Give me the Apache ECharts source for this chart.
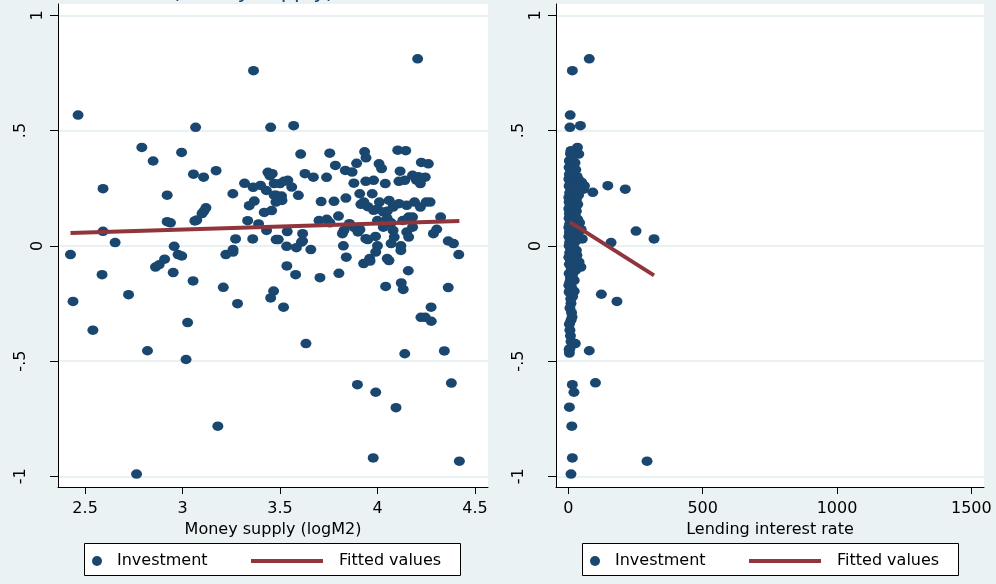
<!DOCTYPE html>
<html>
<head>
<meta charset="utf-8">
<script src="https://cdn.jsdelivr.net/npm/echarts@6/dist/echarts.min.js"></script>
<style>
html,body{margin:0;padding:0;background:#EAF2F3;}
#chart{width:996px;height:584px;}
</style>
</head>
<body>
<div id="chart"></div>
<script>
// ---- Data ----
// Left panel: Investment vs Money supply (logM2)
const moneySupply = [
2.464,3.364,4.206,3.067,3.452,3.570,2.791,2.849,2.995,2.592,
2.921,3.056,3.108,3.172,3.606,3.755,3.784,3.934,3.941,4.104,
4.145,4.225,4.261,3.835,3.893,3.870,4.008,4.021,4.116,4.245,
4.210,4.200,4.220,3.628,3.671,3.739,3.879,3.940,3.980,4.040,
4.110,4.140,4.180,3.318,3.362,3.400,3.438,3.448,3.460,3.500,
3.540,3.560,3.470,3.520,3.430,3.470,3.508,3.594,3.480,3.510,
3.258,3.909,3.973,3.711,3.777,3.838,3.915,3.930,3.950,3.980,
4.010,4.060,4.030,4.080,4.110,4.150,4.190,4.220,4.250,4.270,
4.000,4.050,3.342,3.368,3.419,3.457,3.479,3.109,3.120,3.100,
2.921,2.938,3.063,3.073,3.334,3.390,3.431,3.537,3.616,3.616,
3.272,3.360,3.491,2.592,2.654,3.700,3.740,3.756,3.800,3.828,
3.856,3.880,3.910,3.900,3.950,3.990,4.000,4.050,4.070,4.030,
4.080,4.150,4.180,4.160,4.130,4.287,4.304,4.324,4.363,4.390,
4.000,3.534,3.584,3.658,3.825,3.259,2.957,3.480,3.610,3.820,
3.940,4.070,4.120,4.160,3.840,3.960,4.050,2.425,2.438,2.587,
2.540,2.723,2.764,2.820,2.861,2.880,2.908,2.952,2.977,2.996,
3.054,3.026,3.018,3.181,3.209,3.222,3.259,3.282,3.452,3.467,
3.518,3.535,3.580,3.633,3.705,3.802,3.897,3.929,3.962,3.991,
3.991,3.978,4.042,4.059,4.095,4.122,4.132,4.140,4.158,4.120,
4.223,4.245,4.276,4.275,4.343,4.363,4.379,4.417,4.420,4.086,
4.160,4.180
];
const investmentA = [
0.567,0.760,0.811,0.514,0.514,0.521,0.427,0.368,0.405,0.248,
0.220,0.311,0.298,0.326,0.398,0.402,0.349,0.408,0.382,0.415,
0.413,0.362,0.356,0.327,0.358,0.320,0.356,0.335,0.324,0.298,
0.300,0.285,0.270,0.313,0.298,0.297,0.272,0.280,0.284,0.270,
0.280,0.284,0.306,0.271,0.254,0.262,0.319,0.304,0.313,0.270,
0.284,0.255,0.270,0.280,0.240,0.220,0.216,0.219,0.219,0.197,
0.226,0.226,0.226,0.192,0.193,0.207,0.180,0.190,0.170,0.154,
0.190,0.197,0.147,0.168,0.183,0.176,0.190,0.168,0.190,0.190,
0.160,0.150,0.174,0.194,0.145,0.153,0.190,0.150,0.165,0.140,
0.105,0.100,0.108,0.112,0.109,0.095,0.067,0.062,0.053,0.021,
0.030,0.030,0.027,0.063,0.014,0.110,0.115,0.100,0.129,0.067,
0.096,0.080,0.070,0.060,0.027,0.041,0.110,0.118,0.100,0.081,
0.067,0.060,0.081,0.125,0.110,0.053,0.072,0.125,0.021,0.010,
0.000,-0.002,-0.008,-0.016,0.000,-0.016,-0.002,0.027,0.016,0.053,
0.031,0.010,0.000,0.038,-0.049,-0.055,-0.055,-0.038,-0.241,-0.125,
-0.366,-0.212,-0.990,-0.455,-0.092,-0.082,-0.058,-0.116,-0.038,-0.044,
-0.152,-0.333,-0.493,-0.782,-0.180,-0.038,-0.027,-0.251,-0.226,-0.196,
-0.266,-0.087,-0.125,-0.424,-0.138,-0.119,-0.602,-0.077,-0.066,-0.027,
-0.635,-0.920,-0.176,-0.064,-0.702,-0.161,-0.189,-0.468,-0.108,-0.020,
-0.310,-0.310,-0.327,-0.266,-0.456,-0.181,-0.595,-0.038,-0.934,0.038,
0.118,0.125
];
const fitMoneyX = [2.425, 4.420];
const fitMoneyY = [0.056, 0.108];

// Right panel: Investment vs Lending interest rate
const lendingRate = [
15,78,7,6,45,34,10,39,4,147,212,91,56,252,319,159,52,123,181,78,
101,293,15,21,4,13,15,10,26,6,4,6,10,14,10,16,22,2,47,19,32,
8,18,5,25,12,3,20,9,28,15,4,22,33,10,2,18,40,27,7,50,
14,35,3,22,60,9,30,16,45,5,25,12,38,2,20,8,30,15,3,24,
10,35,6,18,28,2,13,22,8,30,4,17,11,26,3,20,35,8,15,42,
5,25,12,2,30,18,8,48,4,22,12,35,2,17,8,27,5,14,3,20,
10,30,5,16,2,25,9,40,4,18,11,28,3,15,8,22,5,12,3,9,
6,12,4,8,10,3
];
const investmentB = [
0.760,0.811,0.567,0.514,0.521,0.427,0.413,0.398,0.368,0.261,0.246,0.232,0.246,0.064,0.030,0.014,0.030,-0.210,-0.241,-0.455,
-0.594,-0.934,-0.602,-0.635,-0.700,-0.782,-0.920,-0.990,-0.424,-0.446,-0.465,-0.366,-0.323,-0.309,-0.250,-0.220,-0.197,-0.171,-0.092,-0.113,-0.041,
0.400,0.390,0.370,0.360,0.350,0.340,0.340,0.330,0.330,0.320,0.310,0.310,0.300,0.300,0.290,0.290,0.285,0.280,0.280,0.275,
0.270,0.265,0.260,0.260,0.260,0.250,0.250,0.240,0.240,0.230,0.230,0.220,0.220,0.210,0.210,0.200,0.200,0.190,0.190,0.185,
0.180,0.180,0.170,0.170,0.165,0.160,0.160,0.155,0.150,0.150,0.140,0.140,0.130,0.130,0.120,0.120,0.115,0.110,0.100,0.100,
0.095,0.090,0.085,0.080,0.080,0.075,0.070,0.070,0.060,0.060,0.050,0.050,0.040,0.040,0.030,0.020,0.015,0.010,0.000,-0.005,
-0.015,-0.020,-0.030,-0.040,-0.050,-0.055,-0.065,-0.070,-0.080,-0.090,-0.100,-0.105,-0.120,-0.130,-0.140,-0.150,-0.160,-0.180,-0.200,-0.230,
-0.270,-0.290,-0.340,-0.390,-0.415,-0.450
];
const fitRateX = [6, 319];
const fitRateY = [0.103, -0.128];

// Axis ticks / labels
const yTicks = [-1, -0.5, 0, 0.5, 1];
const yTickLabels = ['-1', '-.5', '0', '.5', '1'];
const xTicksMoney = [2.5, 3, 3.5, 4, 4.5];
const xTickLabelsMoney = ['2.5', '3', '3.5', '4', '4.5'];
const xTicksRate = [0, 500, 1000, 1500];
const xTickLabelsRate = ['0', '500', '1000', '1500'];

// ---- Styling ----
const NAVY = '#1A476F';
const MAROON = '#90353B';
const FONT = 'DejaVu Sans';
const GRIDLINE = '#E3ECEE';

function lab(ticks, labels) {
  return function (v) {
    for (let i = 0; i < ticks.length; i++) {
      if (Math.abs(ticks[i] - v) < 1e-9) return labels[i];
    }
    return '';
  };
}
// y labels: single-character labels sit closer to the axis than longer ones
function yLab(v) {
  const t = lab(yTicks, yTickLabels)(v);
  return t.length > 1 ? '{w|' + t + '}' : '{n|' + t + '}';
}

function xAxisCfg(idx, min, max, ticks, labels, name) {
  return {
    type: 'value', gridIndex: idx, min: min, max: max,
    name: name, nameLocation: 'middle', nameGap: 24,
    nameTextStyle: { fontFamily: FONT, fontSize: 16, color: '#000' },
    axisLine: { show: true, onZero: false, lineStyle: { color: '#000', width: 1 } },
    axisTick: { show: true, length: 7, customValues: ticks, lineStyle: { color: '#000', width: 1 } },
    axisLabel: { customValues: ticks, formatter: lab(ticks, labels), margin: 14,
      fontFamily: FONT, fontSize: 16, color: '#000' },
    splitLine: { show: false }
  };
}
function yAxisCfg(idx) {
  return {
    type: 'value', gridIndex: idx, min: -1.046, max: 1.049,
    axisLine: { show: true, onZero: false, lineStyle: { color: '#000', width: 1 } },
    axisTick: { show: true, length: 8, customValues: yTicks, lineStyle: { color: '#000', width: 1 } },
    axisLabel: { customValues: yTicks, formatter: yLab, rotate: 90, margin: 12,
      fontFamily: FONT, fontSize: 16, color: '#000',
      rich: {
        n: { fontFamily: FONT, fontSize: 16, color: '#000' },
        w: { fontFamily: FONT, fontSize: 16, color: '#000', padding: [0, 0, 17, 0] }
      } },
    splitLine: { show: true, lineStyle: { color: GRIDLINE, width: 1.5 } }
  };
}

const chart = echarts.init(document.getElementById('chart'), null, { renderer: 'canvas' });

const legendText = { fontFamily: FONT, fontSize: 16, color: '#000' };
const option = {
  backgroundColor: '#EAF2F3',
  animation: false,
  grid: [
    { left: 58, top: 4, width: 430, height: 483, show: true, backgroundColor: '#fff', borderWidth: 0 },
    { left: 556, top: 4, width: 428, height: 483, show: true, backgroundColor: '#fff', borderWidth: 0 }
  ],
  xAxis: [
    xAxisCfg(0, 2.361, 4.567, xTicksMoney, xTickLabelsMoney, 'Money supply (logM2)'),
    xAxisCfg(1, -45.8, 1547, xTicksRate, xTickLabelsRate, 'Lending interest rate')
  ],
  yAxis: [yAxisCfg(0), yAxisCfg(1)],
  legend: [
    { data: [{ name: 'Investment', icon: 'circle' }], left: 87, top: 548, itemWidth: 10, itemHeight: 10,
      textStyle: Object.assign({ padding: [0, 0, 0, 10] }, legendText), selectedMode: false },
    { data: [{ name: 'Fitted values', icon: 'rect' }], left: 246, top: 548, itemWidth: 72, itemHeight: 4,
      textStyle: Object.assign({ padding: [0, 0, 0, 11] }, legendText), selectedMode: false },
    { data: [{ name: 'Investment', icon: 'circle' }], left: 585, top: 548, itemWidth: 10, itemHeight: 10,
      textStyle: Object.assign({ padding: [0, 0, 0, 10] }, legendText), selectedMode: false },
    { data: [{ name: 'Fitted values', icon: 'rect' }], left: 744, top: 548, itemWidth: 72, itemHeight: 4,
      textStyle: Object.assign({ padding: [0, 0, 0, 11] }, legendText), selectedMode: false }
  ],
  graphic: [
    { type: 'rect', z: -1, shape: { x: 84.5, y: 543.5, width: 376, height: 32 },
      style: { fill: '#fff', stroke: '#000', lineWidth: 1 } },
    { type: 'rect', z: -1, shape: { x: 582.5, y: 543.5, width: 376, height: 32 },
      style: { fill: '#fff', stroke: '#000', lineWidth: 1 } },
    { type: 'text', x: 172, y: 3, style: { text: '(Money supply)', fontFamily: FONT, fontSize: 21,
      fill: NAVY, verticalAlign: 'bottom' } }
  ],
  series: [
    { name: 'Investment', type: 'scatter', xAxisIndex: 0, yAxisIndex: 0,
      symbol: 'circle', symbolSize: [11, 9.5], itemStyle: { color: NAVY, opacity: 1 },
      data: moneySupply.map((x, i) => [x, investmentA[i]]) },
    { name: 'Fitted values', type: 'line', xAxisIndex: 0, yAxisIndex: 0, symbol: 'none', z: 3,
      lineStyle: { color: MAROON, width: 4 }, itemStyle: { color: MAROON },
      data: fitMoneyX.map((x, i) => [x, fitMoneyY[i]]) },
    { name: 'Investment', type: 'scatter', xAxisIndex: 1, yAxisIndex: 1,
      symbol: 'circle', symbolSize: [11, 9.5], itemStyle: { color: NAVY, opacity: 1 },
      data: lendingRate.map((x, i) => [x, investmentB[i]]) },
    { name: 'Fitted values', type: 'line', xAxisIndex: 1, yAxisIndex: 1, symbol: 'none', z: 3,
      lineStyle: { color: MAROON, width: 4 }, itemStyle: { color: MAROON },
      data: fitRateX.map((x, i) => [x, fitRateY[i]]) }
  ]
};
chart.setOption(option);
</script>
</body>
</html>
